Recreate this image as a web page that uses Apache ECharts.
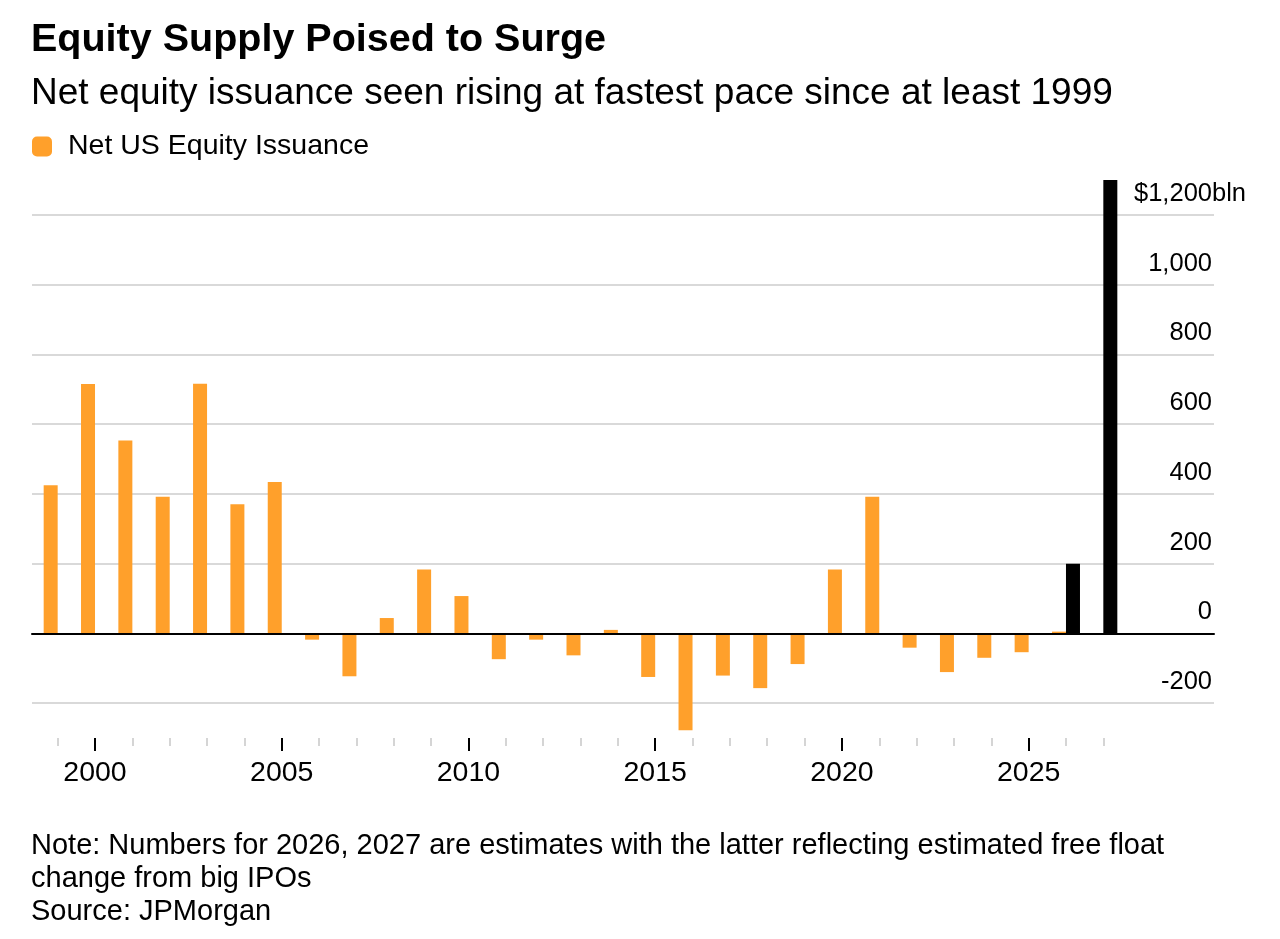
<!DOCTYPE html>
<html>
<head>
<meta charset="utf-8">
<script src="https://cdn.jsdelivr.net/npm/echarts@6/dist/echarts.min.js"></script>
<style>
  html, body { margin: 0; padding: 0; background: #fff; }
  #chart { width: 1280px; height: 939px; }
</style>
</head>
<body>
<div id="chart"></div>
<script>
// years on the x axis
var years = ['1999','2000','2001','2002','2003','2004','2005','2006','2007','2008',
             '2009','2010','2011','2012','2013','2014','2015','2016','2017','2018',
             '2019','2020','2021','2022','2023','2024','2025','2026','2027'];

// net US equity issuance, $bln
var issuance = [425, 715, 553, 392, 716, 370, 434, -18, -123, 44,
                183, 107, -74, -18, -63, 10, -125, -278, -121, -157,
                -88, 183, 392, -41, -111, -70, -54, 5, null];

// estimates for 2026 and 2027
var estimates = [null, null, null, null, null, null, null, null, null, null,
                 null, null, null, null, null, null, null, null, null, null,
                 null, null, null, null, null, null, null, 200, 1300];

var yTicks = [-200, 0, 200, 400, 600, 800, 1000, 1200];

var FONT = '"Liberation Sans", Arial, Helvetica, sans-serif';
var ORANGE = '#FFA02B';

function isMajor(idx, val) {
    return Number(val) % 5 === 0;
}

var chart = echarts.init(document.getElementById('chart'));

var option = {
    backgroundColor: '#fff',
    animation: false,
    textStyle: { fontFamily: FONT, color: '#000' },
    title: [
        {
            text: 'Equity Supply Poised to Surge',
            left: 31, top: 20, padding: 0,
            textStyle: { fontSize: 39.5, fontWeight: 'bold', color: '#000', fontFamily: FONT }
        },
        {
            text: 'Net equity issuance seen rising at fastest pace since at least 1999',
            left: 31, top: 75, padding: 0,
            textStyle: { fontSize: 37, fontWeight: 'normal', color: '#000', fontFamily: FONT }
        },
        {
            text: 'Note: Numbers for 2026, 2027 are estimates with the latter reflecting estimated free float\nchange from big IPOs\nSource: JPMorgan',
            left: 31, top: 829, padding: 0,
            textStyle: { fontSize: 29, fontWeight: 'normal', color: '#000', lineHeight: 33, fontFamily: FONT }
        }
    ],
    legend: {
        data: ['Net US Equity Issuance'],
        left: 32, top: 132, padding: 0,
        icon: 'roundRect',
        itemWidth: 20, itemHeight: 20,
        textStyle: { fontSize: 28.5, color: '#000', padding: [0, 0, 0, 11], fontFamily: FONT }
    },
    grid: [
        // grid lines and right-hand labels
        { left: 32, right: 66, top: 215, bottom: 236 },
        // bars and year axis
        { left: 39, right: 158, top: 180, bottom: 201 }
    ],
    xAxis: [
        {
            gridIndex: 0, type: 'value', min: 0, max: 1, z: 5,
            axisLine: { show: true, onZero: true, lineStyle: { color: '#000', width: 2 } },
            axisTick: { show: false }, axisLabel: { show: false }, splitLine: { show: false }
        },
        {
            gridIndex: 1, type: 'category', data: years, position: 'bottom',
            axisLine: { show: false, onZero: false },
            axisTick: { show: true, alignWithLabel: true, interval: 0, length: 8,
                        lineStyle: { color: '#c8c8c8', width: 1.5 } },
            axisLabel: { show: false }
        },
        {
            gridIndex: 1, type: 'category', data: years, position: 'bottom',
            axisLine: { show: false, onZero: false },
            axisTick: { show: true, alignWithLabel: true, interval: isMajor, length: 13,
                        lineStyle: { color: '#000', width: 2 } },
            axisLabel: { show: true, interval: isMajor, margin: 21, fontSize: 28.5,
                         color: '#000', fontFamily: FONT }
        }
    ],
    yAxis: [
        {
            gridIndex: 0, type: 'value', position: 'right',
            min: yTicks[0], max: yTicks[yTicks.length - 1], interval: 200,
            axisLine: { show: false }, axisTick: { show: false },
            splitLine: { show: true, lineStyle: { color: '#cccccc', width: 1.5 } },
            axisLabel: {
                inside: true, margin: 2, fontSize: 25.5, color: '#000',
                verticalAlign: 'bottom', padding: [0, 0, 8, 0], fontFamily: FONT,
                formatter: function (v) {
                    if (v === 1200) return '$1,200';
                    return v.toLocaleString('en-US');
                }
            }
        },
        {
            // unit suffix hanging past the top label
            gridIndex: 0, type: 'value', position: 'right',
            min: yTicks[0], max: yTicks[yTicks.length - 1], interval: 200,
            axisLine: { show: false }, axisTick: { show: false }, splitLine: { show: false },
            axisLabel: {
                inside: false, margin: -2, fontSize: 25.5, color: '#000',
                verticalAlign: 'bottom', padding: [0, 0, 8, 0], fontFamily: FONT,
                formatter: function (v) {
                    return v === 1200 ? 'bln' : '';
                }
            }
        },
        {
            gridIndex: 1, type: 'value', min: -300, max: 1300, show: false,
            splitLine: { show: false }
        }
    ],
    series: [
        {
            name: 'Net US Equity Issuance',
            type: 'bar',
            xAxisIndex: 1, yAxisIndex: 2,
            data: issuance,
            barWidth: 14, barGap: '0%',
            itemStyle: { color: ORANGE }
        },
        {
            name: 'Estimate',
            type: 'bar',
            xAxisIndex: 1, yAxisIndex: 2,
            data: estimates,
            barWidth: 14, barGap: '0%',
            itemStyle: { color: '#000' }
        }
    ]
};

chart.setOption(option);
</script>
</body>
</html>
